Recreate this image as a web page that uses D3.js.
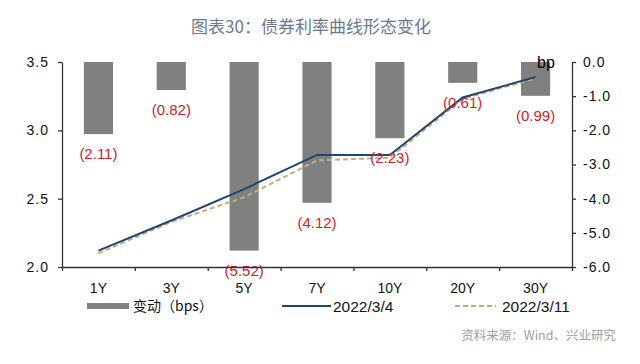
<html>
<head>
<meta charset="utf-8">
<script src="https://cdn.jsdelivr.net/npm/d3@7"></script>
<style>
  body { margin: 0; background: #fff; }
  text { font-family: "Liberation Sans", Arial, sans-serif; }
</style>
</head>
<body>
<svg id="chart" width="640" height="364"></svg>
<script>
    // data
    const categories = ['1Y', '3Y', '5Y', '7Y', '10Y', '20Y', '30Y']
    const changeBps = [-2.11, -0.82, -5.52, -4.12, -2.23, -0.61, -0.99]
    const yield0304 = [2.12, 2.34, 2.57, 2.82, 2.82, 3.24, 3.39]
    const yield0311 = [2.10, 2.33, 2.51, 2.78, 2.80, 3.23, 3.38]
    const leftTicks = [2.0, 2.5, 3.0, 3.5]
    const rightTicks = [-6, -5, -4, -3, -2, -1, 0]

    const svg = d3.select('#chart')
    const m = { left: 62, right: 572, top: 62, bottom: 267 }

    const x = d3.scaleBand().domain(categories).range([m.left, m.right]).padding(0)
    const xEdge = d3.scaleLinear().domain([0, categories.length]).range([m.left, m.right])
    const yL = d3.scaleLinear().domain([2.0, 3.5]).range([m.bottom, m.top])
    const yR = d3.scaleLinear().domain([-6, 0]).range([m.bottom, m.top])
    const cx = c => x(c) + x.bandwidth() / 2
    const narrow = '"Liberation Sans Narrow", "Arial Narrow", "Liberation Sans", sans-serif'

    // title
    svg.append('text')
        .attr('x', 311).attr('y', 33)
        .attr('text-anchor', 'middle')
        .style('font-family', '"Noto Sans CJK SC", sans-serif')
        .style('font-size', '17px')
        .attr('fill', '#6b7a8f')
        .text('图表30：债券利率曲线形态变化')

    // bars (right axis)
    const barW = x.bandwidth() * 0.4
    svg.selectAll('.bar').data(changeBps).enter().append('rect')
        .attr('class', 'bar')
        .attr('x', (d, i) => cx(categories[i]) - barW / 2)
        .attr('y', yR(0))
        .attr('width', barW)
        .attr('height', d => yR(d) - yR(0))
        .attr('fill', '#808080')

    // lines (left axis)
    const line = d3.line()
        .x((d, i) => cx(categories[i]))
        .y(d => yL(d))

    svg.append('path').datum(yield0311)
        .attr('d', line)
        .attr('fill', 'none')
        .attr('stroke', '#c9ab80')
        .attr('stroke-width', 2)
        .attr('stroke-dasharray', '5,3')

    svg.append('path').datum(yield0304)
        .attr('d', line)
        .attr('fill', 'none')
        .attr('stroke', '#1f4670')
        .attr('stroke-width', 2)

    // bar labels
    svg.selectAll('.lbl').data(changeBps).enter().append('text')
        .attr('class', 'lbl')
        .attr('x', (d, i) => cx(categories[i]))
        .attr('y', d => yR(d) + 25)
        .attr('text-anchor', 'middle')
        .style('font-size', '15px')
        .attr('fill', '#cc1f2b')
        .text(d => '(' + Math.abs(d).toFixed(2) + ')')

    // axes
    const axL = svg.append('g')
        .attr('transform', `translate(${m.left},0)`)
        .call(d3.axisLeft(yL).tickValues(leftTicks).tickFormat(d => d.toFixed(1)).tickSize(4).tickSizeOuter(0).tickPadding(9))
    const axR = svg.append('g')
        .attr('transform', `translate(${m.right},0)`)
        .call(d3.axisRight(yR).tickValues(rightTicks).tickFormat(d => d.toFixed(1)).tickSize(4).tickSizeOuter(0).tickPadding(7))
    const axB = svg.append('g')
        .attr('transform', `translate(0,${m.bottom})`)
        .call(d3.axisBottom(xEdge).tickValues(d3.range(categories.length + 1)).tickFormat('').tickSize(4).tickSizeOuter(0))

    ;[axL, axR, axB].forEach(g => {
        g.select('.domain').attr('stroke', '#333').attr('stroke-width', 1.3)
        g.selectAll('.tick line').attr('stroke', '#333').attr('stroke-width', 1.3)
        g.selectAll('.tick text')
            .attr('fill', '#111')
            .style('font-family', '"Liberation Sans", Arial, sans-serif')
            .style('font-size', '14px')
            .style('letter-spacing', '1px')
    })

    // category labels
    svg.selectAll('.cat').data(categories).enter().append('text')
        .attr('class', 'cat')
        .attr('x', d => cx(d))
        .attr('y', 293)
        .attr('text-anchor', 'middle')
        .style('font-family', narrow)
        .style('font-size', '14px')
        .attr('fill', '#111')
        .text(d => d)

    // unit label
    svg.append('text')
        .attr('x', 537).attr('y', 68)
        .style('font-size', '16px')
        .attr('fill', '#000')
        .text('bp')

    // legend
    const lg = svg.append('g').attr('transform', 'translate(0,306)')
    lg.append('rect').attr('x', 87).attr('y', -3).attr('width', 42).attr('height', 6).attr('fill', '#808080')
    lg.append('text').attr('x', 133).attr('y', 5)
        .style('font-family', '"Noto Sans CJK SC", sans-serif').style('font-size', '14px').attr('fill', '#111')
        .text('变动（bps）')
    lg.append('line').attr('x1', 282).attr('x2', 331).attr('y1', 0).attr('y2', 0)
        .attr('stroke', '#1f4670').attr('stroke-width', 2)
    lg.append('text').attr('x', 333).attr('y', 6)
        .style('font-family', narrow)
        .style('font-size', '15.5px').attr('fill', '#111')
        .text('2022/3/4')
    lg.append('line').attr('x1', 455).attr('x2', 496).attr('y1', 0).attr('y2', 0)
        .attr('stroke', '#c9ab80').attr('stroke-width', 2).attr('stroke-dasharray', '5,3')
    lg.append('text').attr('x', 502).attr('y', 6)
        .style('font-family', narrow)
        .style('font-size', '15.5px').attr('fill', '#111')
        .text('2022/3/11')

    // source
    svg.append('text')
        .attr('x', 616).attr('y', 340)
        .attr('text-anchor', 'end')
        .style('font-family', '"Noto Sans CJK SC", sans-serif')
        .style('font-size', '12.5px')
        .attr('fill', '#a0a0a0')
        .text('资料来源：Wind、兴业研究')
</script>
</body>
</html>
